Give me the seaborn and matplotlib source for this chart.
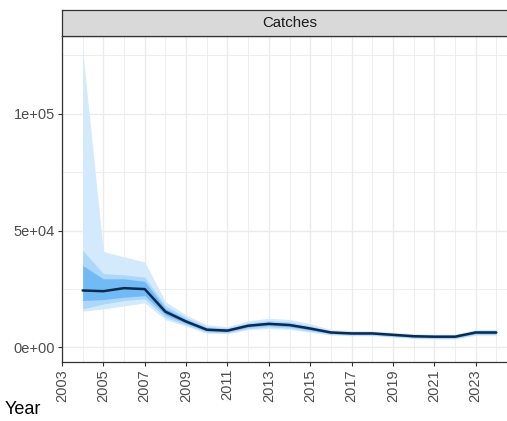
import numpy as np
import pandas as pd
import seaborn as sns
import matplotlib.pyplot as plt
from matplotlib.ticker import FixedLocator

# ---------------------------------------------
# DATA
# ---------------------------------------------

years = list(range(2004, 2025))

median = [24300, 24000, 25300, 24900, 15200, 11000, 7500, 7100, 9200, 10000, 9500,
          8000, 6300, 5900, 5900, 5300, 4700, 4500, 4500, 6300, 6300]

hi95 = [127000, 41000, 38700, 36500, 19500, 13800, 9600, 8800, 11300, 12400, 11900,
        10100, 7600, 7100, 7000, 6400, 5800, 5600, 5600, 7600, 7600]
hi80 = [41500, 31500, 31000, 30000, 17800, 12700, 8800, 8200, 10500, 11400, 10900,
        9200, 7000, 6600, 6500, 6000, 5400, 5200, 5200, 7100, 7100]
hi50 = [35000, 29300, 29300, 28200, 16600, 11900, 8200, 7700, 9800, 10700, 10200,
        8600, 6700, 6300, 6200, 5700, 5100, 4900, 4900, 6800, 6800]
lo50 = [20000, 20400, 21400, 22100, 13900, 10200, 6900, 6600, 8600, 9300, 8800,
        7400, 5900, 5500, 5500, 4900, 4300, 4100, 4100, 5800, 5800]
lo80 = [16400, 18500, 20000, 20700, 12800, 9600, 6400, 6200, 8000, 8700, 8200,
        6900, 5600, 5200, 5200, 4600, 4000, 3800, 3800, 5500, 5500]
lo95 = [15400, 16400, 17700, 19000, 11800, 9000, 6000, 5800, 7500, 8000, 7600,
        6400, 5200, 4900, 4900, 4300, 3700, 3500, 3500, 5100, 5100]

panel_title = "Catches"
x_label = "Year"
x_ticks = list(range(2003, 2025, 2))
y_ticks = [0, 50000, 100000]
y_tick_labels = ["0e+00", "5e+04", "1e+05"]

df = pd.DataFrame({"Year": years, "value": median})

# ---------------------------------------------
# STYLE
# ---------------------------------------------

sns.set_theme(style="white")
plt.rcParams["font.family"] = ["Liberation Sans", "DejaVu Sans"]

W, H = 507, 421
fig = plt.figure(figsize=(W / 100, H / 100), dpi=100)

ax = fig.add_axes([62 / W, 1 - 362 / H, 455 / W, 326 / H])

# ---------------------------------------------
# BANDS + MEDIAN
# ---------------------------------------------

bands = [
    (lo95, hi95, "#d3e9fc"),
    (lo80, hi80, "#acd6fa"),
    (lo50, hi50, "#72baf5"),
]
for lo, hi, col in bands:
    ax.fill_between(years, lo, hi, color=col, linewidth=0, zorder=2)

sns.lineplot(data=df, x="Year", y="value", color="#0c2a4d",
             linewidth=1.8, ax=ax, zorder=3)

# ---------------------------------------------
# AXES
# ---------------------------------------------

top = max(hi95)
ax.set_ylim(-0.05 * top, top * 1.05)
ax.set_xlim(2003, 2025)

ax.set_xticks(x_ticks)
ax.set_xticklabels([str(t) for t in x_ticks], rotation=90)
ax.set_yticks(y_ticks)
ax.set_yticklabels(y_tick_labels)
ax.xaxis.set_minor_locator(FixedLocator(list(range(2004, 2025, 2))))
ax.yaxis.set_minor_locator(FixedLocator([25000, 75000, 125000]))

ax.grid(which="major", color="#ebebeb", linewidth=1.0, zorder=0)
ax.grid(which="minor", color="#ebebeb", linewidth=0.6, zorder=0)
ax.set_axisbelow(True)

ax.tick_params(axis="both", which="major", direction="out", length=3,
               width=0.8, color="#333333", labelsize=10.5,
               labelcolor="#4d4d4d", pad=2, bottom=True, left=True)
ax.tick_params(axis="both", which="minor", length=0)

for s in ax.spines.values():
    s.set_color("#333333")
    s.set_linewidth(0.9)

ax.set_xlabel("")
ax.set_ylabel("")

# ---------------------------------------------
# STRIP
# ---------------------------------------------

strip = fig.add_axes([62 / W, 1 - 36 / H, 455 / W, 26 / H])
strip.set_facecolor("#d9d9d9")
strip.set_xticks([])
strip.set_yticks([])
for s in strip.spines.values():
    s.set_color("#333333")
    s.set_linewidth(0.9)
strip.text(0.5, 0.5, panel_title, ha="center", va="center",
           fontsize=10.8, color="#1a1a1a", transform=strip.transAxes)

fig.text(5 / W, 1 - 410 / H, x_label, ha="left", va="center",
         fontsize=13, color="black")

fig.savefig("out.png", dpi=100)
plt.close(fig)
